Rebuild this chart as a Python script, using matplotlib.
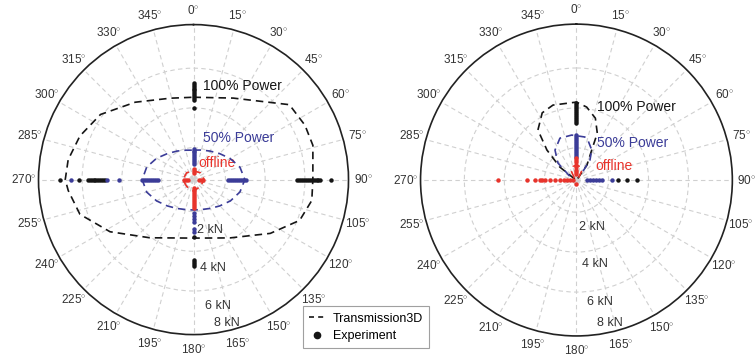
import numpy as np
import matplotlib
matplotlib.use('Agg')
import matplotlib.pyplot as plt
from matplotlib.lines import Line2D

plt.rcParams['font.family'] = ['Liberation Sans', 'DejaVu Sans']
plt.rcParams['mathtext.fontset'] = 'custom'
plt.rcParams['mathtext.rm'] = 'Liberation Sans'

BLACK = '#151515'
BLUE = '#3b3c98'
RED = '#e8342c'

# ---- left panel: Transmission3D curves (deg, kN)
l_sim100_deg = [0, 26, 52, 64, 74, 90, 100, 111, 125, 148, 180, 217, 238, 253, 265, 270, 279, 291, 305, 323, 344, 360]
l_sim100_r = [4.25, 4.68, 6.28, 6.4, 6.41, 6.16, 6.2, 5.87, 4.84, 3.55, 3.02, 3.76, 5.08, 6.13, 6.49, 6.62, 6.55, 6.28, 5.86, 5.0, 4.37, 4.25]
l_sim50_deg = list(range(0, 361, 15))
l_sim50_r = [1.52, 1.58, 1.70, 1.90, 2.18, 2.48, 2.65, 2.48, 2.2, 1.92, 1.72, 1.6, 1.57,
             1.6, 1.72, 1.92, 2.2, 2.5, 2.65, 2.5, 2.2, 1.9, 1.7, 1.57, 1.52]
l_simoff_deg = [0, 45, 90, 135, 180, 225, 270, 315, 360]
l_simoff_r = [0.45, 0.5, 0.55, 0.5, 0.6, 0.5, 0.55, 0.5, 0.45]

# ---- left panel: experiment points, per direction (deg -> kN)
l_exp100 = {0: [3.7, 4.1, 4.2, 4.3, 4.4, 4.5, 4.6, 4.7, 4.8, 4.9, 5.0],
            90: [5.35, 5.45, 5.55, 5.65, 5.75, 5.85, 5.95, 6.05, 6.15, 6.25, 6.35, 6.45, 6.55, 7.1],
            180: [2.96, 4.15, 4.25, 4.35, 4.45],
            270: [4.56, 4.66, 4.76, 4.86, 4.96, 5.06, 5.16, 5.26, 5.36, 5.46, 5.9, 6.88]}
l_exp50 = {0: [0.8, 0.9, 1.0, 1.1, 1.2, 1.3, 1.4, 1.5, 1.6],
           90: [1.8, 1.9, 2.0, 2.1, 2.2, 2.3, 2.4, 2.5, 2.6, 2.7],
           180: [1.75, 1.9, 2.05, 2.2, 2.55, 2.7],
           270: [1.85, 1.95, 2.05, 2.15, 2.25, 2.35, 2.45, 2.55, 2.65, 3.82, 4.46, 6.3]}
l_expoff = {0: [0.35, 0.45, 0.55],
            90: [0.3, 0.4, 0.5],
            180: [0.45, 0.55, 0.65, 0.75, 0.85, 0.95, 1.05, 1.15, 1.25, 1.35, 1.45],
            270: [0.3, 0.4, 0.5]}

# ---- right panel: Transmission3D curves
r_sim100_deg = [300, 308, 315.5, 322.4, 333, 342.6, 360, 368, 377, 384, 387, 395, 400]
r_sim100_r = [0.1, 1.08, 2.16, 3.24, 3.87, 4.03, 4.0, 3.78, 3.32, 2.63, 1.73, 0.94, 0.1]
r_sim50_deg = [300, 312.6, 324.4, 338.5, 354, 371, 376, 387, 394, 398]
r_sim50_r = [0.4, 1.29, 1.89, 2.31, 2.32, 2.25, 2.13, 1.73, 1.24, 0.46]
r_simoff_deg = [315, 330, 345, 360, 375, 390, 405]
r_simoff_r = [0.15, 0.55, 0.72, 0.76, 0.72, 0.55, 0.15]

# ---- right panel: experiment points
r_exp100 = {0: [2.95, 3.05, 3.15, 3.25, 3.35, 3.45, 3.55, 3.65, 3.75, 3.85, 3.95],
            90: [2.13, 2.59, 3.1]}
r_exp50 = {0: [1.2, 1.3, 1.4, 1.5, 1.6, 1.7, 1.8, 1.9, 2.0, 2.1, 2.2, 2.3],
           90: [0.55, 0.7, 0.85, 1.0, 1.15, 1.3, 1.82]}
r_expoff = {0: [0.3, 0.42, 0.54, 0.66, 0.78, 0.9, 1.02, 1.14],
            180: [0.2],
            270: [0.2, 0.35, 0.5, 0.62, 0.85, 1.1, 1.36, 1.62, 1.75, 1.87, 2.13, 2.54, 4.03]}

angle_labels = [f'{a}$^{{\\circ}}$' for a in range(0, 360, 15)]
kn_labels = ['2 kN', '4 kN', '6 kN', '8 kN']


def setup(ax, lab_r):
    ax.set_theta_zero_location('N')
    ax.set_theta_direction(-1)
    ax.set_ylim(0, 8)
    ax.set_thetagrids(range(0, 360, 15), angle_labels, fontsize=8.5, color='#333333')
    ax.tick_params(axis='x', pad=0)
    ax.set_rgrids([1.65, 3.7, 5.75], labels=['', '', ''])
    ax.grid(True, color='#d0d0d0', linestyle=(0, (4, 3)), linewidth=0.8)
    ax.spines['polar'].set_color('#222222')
    ax.spines['polar'].set_linewidth(1.2)
    for lab, (th, rr) in zip(kn_labels, lab_r):
        ax.text(np.deg2rad(th), rr, lab, fontsize=9, color='#333333', ha='left', va='center')


def draw_exp(ax, pts, color):
    for deg, vals in pts.items():
        ax.plot(np.full(len(vals), np.deg2rad(deg)), vals, 'o', color=color,
                markersize=3.2, markeredgewidth=0, zorder=5)


def draw_sim(ax, deg, r, color):
    ax.plot(np.deg2rad(deg), r, color=color, linestyle=(0, (4.5, 3)), linewidth=1.2, zorder=4)


fig = plt.figure(figsize=(7.55, 3.59), dpi=100)
axL = fig.add_axes([0.051, 0.068, 0.4106, 0.8635], projection='polar')
axR = fig.add_axes([0.557, 0.064, 0.413, 0.869], projection='polar')

setup(axL, [(176, 2.6), (176, 4.55), (175, 6.55), (172, 7.45)])
setup(axR, [(177, 2.4), (176, 4.3), (175, 6.3), (172, 7.42)])

draw_sim(axL, l_sim100_deg, l_sim100_r, BLACK)
draw_sim(axL, l_sim50_deg, l_sim50_r, BLUE)
draw_sim(axL, l_simoff_deg, l_simoff_r, RED)
draw_exp(axL, l_exp100, BLACK)
draw_exp(axL, l_exp50, BLUE)
draw_exp(axL, l_expoff, RED)

draw_sim(axR, r_sim100_deg, r_sim100_r, BLACK)
draw_sim(axR, r_sim50_deg, r_sim50_r, BLUE)
draw_sim(axR, r_simoff_deg, r_simoff_r, RED)
draw_exp(axR, r_exp100, BLACK)
draw_exp(axR, r_exp50, BLUE)
draw_exp(axR, r_expoff, RED)

axL.text(np.deg2rad(5.8), 4.84, '100% Power', color=BLACK, fontsize=10, ha='left', va='center')
axL.text(np.deg2rad(12.9), 2.2, '50% Power', color=BLUE, fontsize=10, ha='left', va='center')
axL.text(np.deg2rad(15.3), 0.88, 'offline', color=RED, fontsize=10, ha='left', va='center')
axR.text(np.deg2rad(15.7), 3.89, '100% Power', color=BLACK, fontsize=10, ha='left', va='center')
axR.text(np.deg2rad(29), 2.17, '50% Power', color=BLUE, fontsize=10, ha='left', va='center')
axR.text(np.deg2rad(52.9), 1.19, 'offline', color=RED, fontsize=10, ha='left', va='center')

handles = [Line2D([], [], color=BLACK, linestyle=(0, (3, 2.5)), linewidth=1.2),
           Line2D([], [], color=BLACK, marker='o', linestyle='none', markersize=4.5)]
leg = fig.legend(handles, ['Transmission3D', 'Experiment'], loc='lower left',
                 bbox_to_anchor=(0.393, 0.012), fontsize=9, frameon=True, fancybox=False,
                 edgecolor='#888888', handlelength=1.3, borderpad=0.5, labelspacing=0.45,
                 handletextpad=0.6)
leg.get_frame().set_linewidth(0.8)

fig.savefig('out.png', dpi=100)
